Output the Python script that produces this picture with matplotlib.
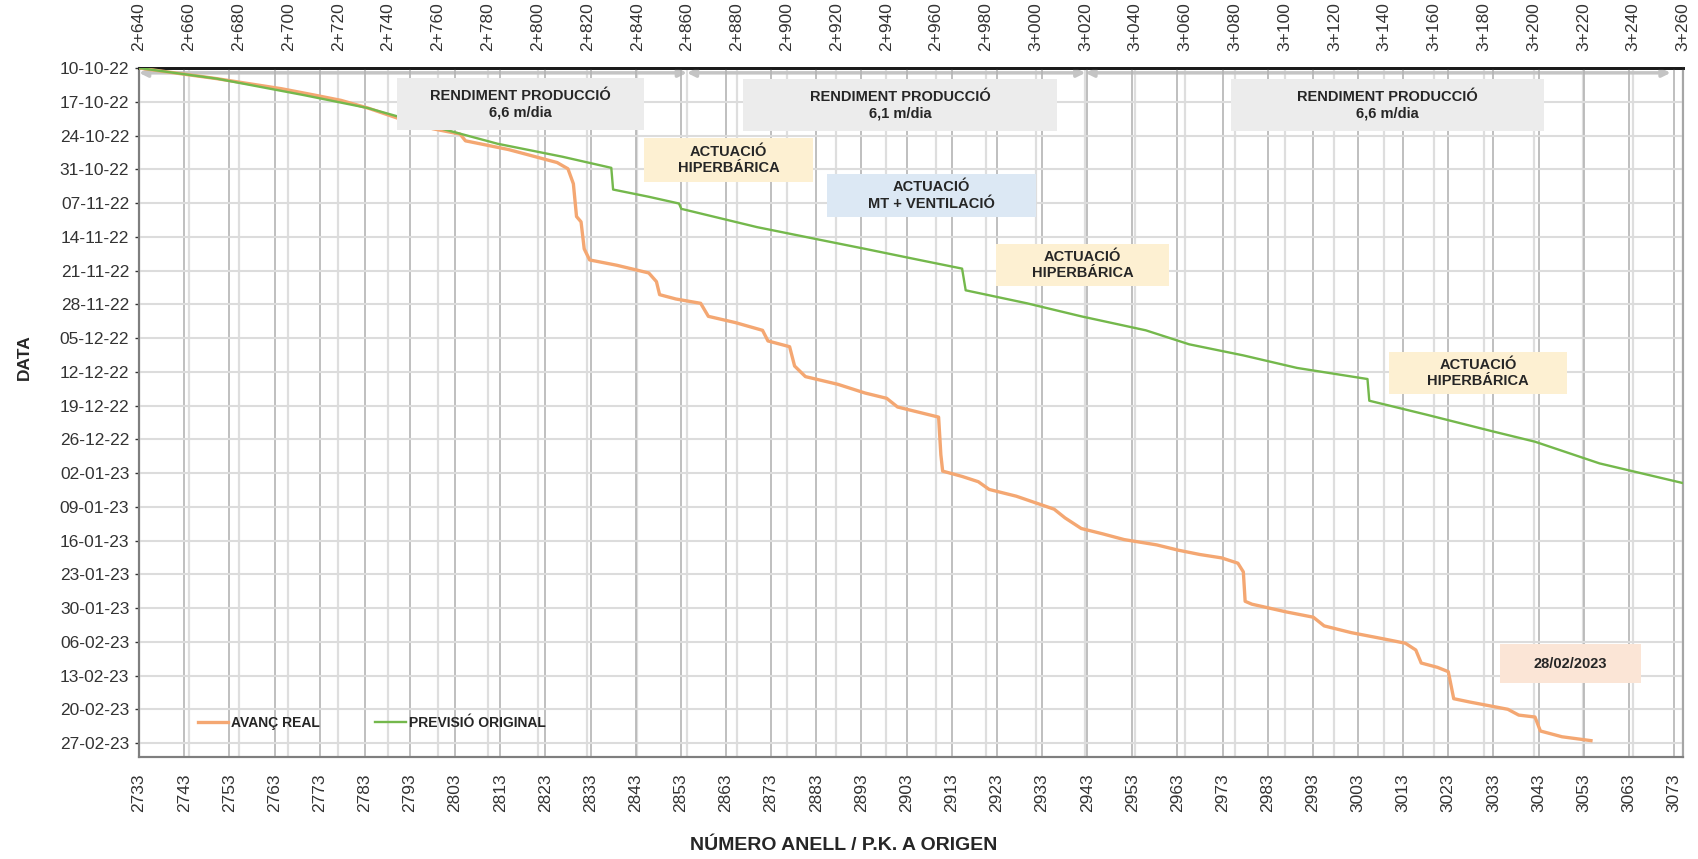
import numpy as np
import pandas as pd
import matplotlib
matplotlib.use('Agg')
import matplotlib.pyplot as plt
import matplotlib.dates as mdates
from matplotlib.patches import Rectangle

plt.rcParams['font.family'] = ['Liberation Sans', 'DejaVu Sans']

START = pd.Timestamp('2022-10-10')

### Avanç real (ring number, days since 10-10-22)
real_ring = [2733.0, 2750.2, 2764.6, 2771.8, 2777.7, 2783.7, 2790.9, 2798.1, 2804.1, 2805.3,
             2814.8, 2820.8, 2825.6, 2828.0, 2829.2, 2829.9, 2830.9, 2831.6, 2832.8, 2838.8,
             2845.9, 2847.6, 2848.3, 2851.9, 2857.4, 2859.1, 2865.1, 2871.1, 2872.3, 2877.1,
             2878.2, 2880.6, 2887.8, 2893.8, 2898.6, 2901.0, 2910.1, 2910.6, 2911.0, 2915.3,
             2918.9, 2921.3, 2927.3, 2935.7, 2938.1, 2941.7, 2946.4, 2951.2, 2958.4, 2963.2,
             2968.0, 2972.8, 2976.4, 2977.6, 2978.0, 2979.5, 2987.1, 2993.1, 2995.5, 3001.5,
             3008.7, 3013.5, 3015.8, 3017.0, 3020.6, 3023.0, 3024.2, 3027.8, 3036.2, 3038.6,
             3042.2, 3043.4, 3048.2, 3054.6]
real_day = [0.0, 2.2, 4.3, 5.6, 6.7, 8.3, 10.6, 12.6, 13.7, 15.1,
            16.9, 18.4, 19.6, 20.9, 24.0, 30.8, 31.9, 37.5, 39.8, 40.9,
            42.5, 44.3, 47.0, 47.9, 48.8, 51.5, 52.8, 54.4, 56.6, 57.8,
            61.8, 64.0, 65.6, 67.4, 68.5, 70.3, 72.4, 80.2, 83.6, 84.7,
            85.8, 87.4, 88.8, 91.5, 93.3, 95.5, 96.6, 97.8, 98.9, 100.0,
            100.9, 101.6, 102.7, 104.5, 110.6, 111.2, 112.8, 113.9, 115.7, 117.1,
            118.4, 119.3, 120.7, 123.4, 124.3, 125.2, 130.8, 131.5, 133.0, 134.2,
            134.6, 137.5, 138.7, 139.5]

### Previsió original
plan_ring = [2733.0, 2750.2, 2769.4, 2783.7, 2798.1, 2812.4, 2826.8, 2837.6, 2838.0, 2845.9,
             2852.6, 2853.1, 2869.9, 2884.2, 2893.8, 2905.8, 2915.3, 2916.1, 2929.7, 2941.7,
             2956.0, 2965.6, 2977.6, 2989.5, 3005.1, 3005.5, 3018.2, 3032.6, 3042.2, 3056.5,
             3073.7, 3080.0]
plan_day = [0.0, 2.2, 5.6, 8.3, 12.1, 15.7, 18.4, 20.7, 25.2, 26.7,
            28.1, 29.2, 33.0, 35.7, 37.5, 39.8, 41.6, 46.1, 48.8, 51.5,
            54.4, 57.3, 59.6, 62.2, 64.5, 69.0, 71.9, 75.3, 77.5, 82.0,
            85.8, 87.2]

ring_ticks = np.arange(2733, 3074, 10)
pk_ticks = np.arange(2640, 3261, 20)
date_ticks = pd.date_range('2022-10-10', '2023-02-27', freq='7D')

### Annotation boxes: text, ring from/to, days from/to, colour
boxes = [
    ('RENDIMENT PRODUCCIÓ\n6,6 m/dia', 2790.1, 2844.8, 2.1, 12.9, '#ececec'),
    ('RENDIMENT PRODUCCIÓ\n6,1 m/dia', 2866.8, 2936.3, 2.3, 13.1, '#ececec'),
    ('RENDIMENT PRODUCCIÓ\n6,6 m/dia', 2974.9, 3044.2, 2.3, 13.1, '#ececec'),
    ('ACTUACIÓ\nHIPERBÁRICA', 2844.8, 2882.3, 14.5, 23.6, '#fdf0d2'),
    ('ACTUACIÓ\nMT + VENTILACIÓ', 2885.4, 2931.7, 22.0, 30.9, '#dce8f4'),
    ('ACTUACIÓ\nHIPERBÁRICA', 2922.8, 2961.1, 36.5, 45.2, '#fdf0d2'),
    ('ACTUACIÓ\nHIPERBÁRICA', 3009.9, 3049.3, 58.9, 67.6, '#fdf0d2'),
    ('28/02/2023', 3034.4, 3065.7, 119.5, 127.6, '#fbe5d6'),
]
# production sections along the P.K. axis
sections = [(2640, 2860), (2860, 3020), (3020, 3255)]


def to_num(days):
    return mdates.date2num(START) + np.asarray(days, dtype=float)


fig, ax = plt.subplots(figsize=(16.98, 8.59), dpi=100)
fig.subplots_adjust(left=0.0819, right=0.9912, top=0.9208, bottom=0.1187)
ax2 = ax.twiny()
ax.set_zorder(ax2.get_zorder() + 1)
ax.patch.set_visible(False)

# curves
ax.plot(real_ring, to_num(real_day), color='#f4a772', lw=2.4, label='AVANÇ REAL',
        solid_joinstyle='round', zorder=3)
ax.plot(plan_ring, to_num(plan_day), color='#74b84c', lw=1.7, label='PREVISIÓ ORIGINAL',
        zorder=3)

# axes limits
ax.set_xlim(2733, 3075)
ax.set_ylim(to_num(142.9), to_num(0))
ax2.set_xlim(2640, 3260)

# bottom axis
ax.set_xticks(ring_ticks)
ax.set_xticklabels([str(v) for v in ring_ticks], rotation=90, fontsize=12.5, color='#333333')
ax.tick_params(axis='x', length=0, pad=12)
ax.grid(axis='x', color='#b4b4b4', lw=1.2)

# date axis
ax.set_yticks(to_num((date_ticks - START).days))
ax.yaxis.set_major_formatter(mdates.DateFormatter('%d-%m-%y'))
ax.tick_params(axis='y', length=3, width=1, color='#333333', labelsize=12.5,
               labelcolor='#333333', pad=4)
ax.grid(axis='y', color='#dcdcdc', lw=1.5)

# top P.K. axis
ax2.set_xticks(pk_ticks)
ax2.set_xticklabels(['%d+%03d' % (v // 1000, v % 1000) for v in pk_ticks],
                    rotation=90, fontsize=12.5, color='#333333')
ax2.tick_params(axis='x', length=0, pad=12)
ax2.grid(axis='x', color='#dedede', lw=1.6)

# spines
for a in (ax, ax2):
    a.spines['top'].set_color('#1a1a1a')
    a.spines['top'].set_linewidth(2)
    a.spines['left'].set_color('#7f7f7f')
    a.spines['left'].set_linewidth(1.5)
    a.spines['bottom'].set_color('#7f7f7f')
    a.spines['bottom'].set_linewidth(1.5)
    a.spines['right'].set_color('#a6a6a6')
    a.spines['right'].set_linewidth(1.5)

# section arrows under the top axis
for x0, x1 in sections:
    ax2.annotate('', xy=(x1, to_num(1.0)), xytext=(x0, to_num(1.0)),
                 arrowprops=dict(arrowstyle='<|-|>', color='#c4c4c4', lw=2.5,
                                 mutation_scale=12, shrinkA=0, shrinkB=0))

# text boxes
for txt, x0, x1, d0, d1, col in boxes:
    y0, y1 = to_num(d0), to_num(d1)
    ax.add_patch(Rectangle((x0, y0), x1 - x0, y1 - y0, facecolor=col,
                           edgecolor='none', zorder=4))
    ax.text((x0 + x1) / 2, (y0 + y1) / 2, txt, ha='center', va='center',
            fontsize=10.5, fontweight='bold', color='#262626', linespacing=1.25,
            zorder=5)

# legend
leg = ax.legend(loc='center left', bbox_to_anchor=(0.038, 0.049), ncol=2,
                frameon=False, borderpad=0, borderaxespad=0, handlelength=2.2,
                handletextpad=0.2, columnspacing=4.0,
                prop={'size': 10, 'weight': 'bold'})
for t in leg.get_texts():
    t.set_color('#262626')

# axis titles
fig.text(24 / 1698, 1 - 357 / 859, 'DATA', rotation=90, ha='center', va='center',
         fontsize=12.5, fontweight='bold', color='#262626')
fig.text(844 / 1698, 1 - 846 / 859, 'NÚMERO ANELL / P.K. A ORIGEN', ha='center',
         va='center', fontsize=14, fontweight='bold', color='#262626')

fig.savefig('out.png', dpi=100)
